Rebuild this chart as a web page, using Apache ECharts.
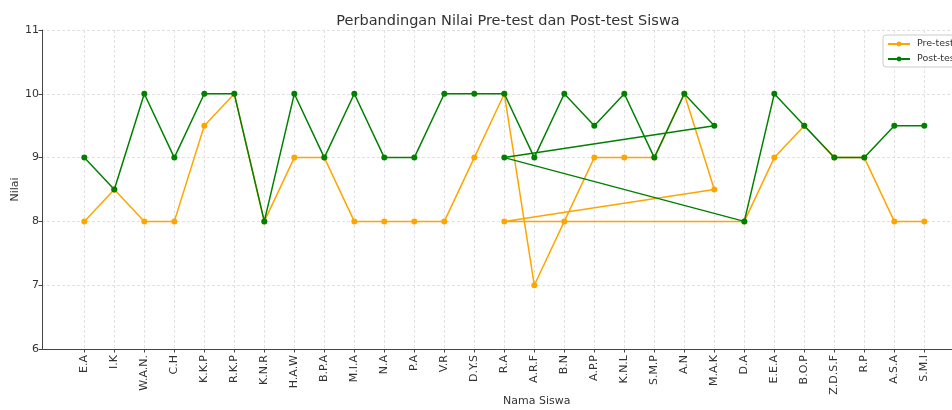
<!DOCTYPE html>
<html>
<head>
<meta charset="utf-8">
<script src="https://cdn.jsdelivr.net/npm/echarts@6/dist/echarts.min.js"></script>
<style>
  html, body { margin: 0; padding: 0; background: #fff; }
  #chart { width: 952px; height: 410px; }
</style>
</head>
<body>
<div id="chart"></div>
<script>
// urutan siswa seperti di data asli (R.A muncul dua kali)
const names = ["E.A", "I.K", "W.A.N.", "C.H", "K.K.P", "R.K.P", "K.N.R", "H.A.W", "B.P.A", "M.I.A",
  "N.A", "P.A", "V.R", "D.Y.S", "R.A", "A.R.F", "B.N", "A.P.P", "K.N.L", "S.M.P",
  "A.N", "M.A.K", "R.A", "D.A", "E.E.A", "B.O.P", "Z.D.S.F", "R.P", "A.S.A", "S.M.I"];
const preTest = [8, 8.5, 8, 8, 9.5, 10, 8, 9, 9, 8,
  8, 8, 8, 9, 10, 7, 8, 9, 9, 9,
  10, 8.5, 8, 8, 9, 9.5, 9, 9, 8, 8];
const postTest = [9, 8.5, 10, 9, 10, 10, 8, 10, 9, 10,
  9, 9, 10, 10, 10, 9, 10, 9.5, 10, 9,
  10, 9.5, 9, 8, 10, 9.5, 9, 9, 9.5, 9.5];
const yTicks = [6, 7, 8, 9, 10, 11];

// kategori unik untuk sumbu x
const categories = [];
names.forEach((n) => { if (categories.indexOf(n) < 0) categories.push(n); });

const toPoints = (vals) => names.map((n, i) => [categories.indexOf(n), vals[i]]);

const textColor = "#333";
const gridLine = { show: true, lineStyle: { color: "#d9d9d9", type: [3, 2], width: 0.8 } };
const font = "DejaVu Sans";

const chart = echarts.init(document.getElementById("chart"));
const option = {
  animation: false,
  backgroundColor: "#fff",
  title: {
    text: "Perbandingan Nilai Pre-test dan Post-test Siswa",
    left: 503,
    textAlign: "center",
    top: 9,
    textStyle: { fontFamily: font, fontSize: 14.5, fontWeight: "normal", color: textColor },
  },
  legend: {
    orient: "vertical",
    left: 883,
    top: 35,
    padding: [4, 6, 3, 4],
    itemGap: 5,
    itemWidth: 22,
    itemHeight: 6,
    borderColor: "#ccc",
    borderWidth: 1,
    borderRadius: 3,
    backgroundColor: "rgba(255,255,255,0.8)",
    textStyle: { fontFamily: font, fontSize: 9.5, color: textColor, padding: [0, 0, 0, 2] },
    data: ["Pre-test", "Post-test"],
  },
  grid: [
    { left: 42, right: -44, top: 30, bottom: 61, outerBoundsMode: "none", containLabel: false },
    { left: 84.3, right: 27.7, top: 30, bottom: 61, outerBoundsMode: "none", containLabel: false },
  ],
  xAxis: [
    {
      gridIndex: 0,
      type: "value",
      min: -1.4,
      max: 29.4,
      axisLine: { show: true, onZero: false, lineStyle: { color: "#444", width: 1 } },
      axisTick: { show: false },
      axisLabel: { show: false },
      splitLine: { show: false },
    },
    {
      gridIndex: 1,
      type: "category",
      data: categories,
      boundaryGap: false,
      axisLine: { show: false },
      axisTick: { show: true, interval: 0, length: 3.5, lineStyle: { color: "#444" } },
      axisLabel: {
        interval: 0,
        rotate: 90,
        margin: 6,
        fontFamily: font,
        fontSize: 11,
        color: textColor,
      },
      splitLine: Object.assign({ interval: 0 }, gridLine),
    },
  ],
  yAxis: [
    {
      gridIndex: 0,
      type: "value",
      min: 6,
      max: 11,
      interval: 1,
      name: "Nilai",
      nameLocation: "middle",
      nameGap: 21,
      nameMoveOverlap: false,
      nameTextStyle: { fontFamily: font, fontSize: 11, color: textColor },
      axisLine: { show: true, onZero: false, lineStyle: { color: "#444", width: 1 } },
      axisTick: { show: true, length: 3.5, lineStyle: { color: "#444" } },
      axisLabel: {
        margin: 3,
        fontFamily: font,
        fontSize: 11,
        color: textColor,
        formatter: (v) => (yTicks.indexOf(v) >= 0 ? String(v) : ""),
      },
      splitLine: gridLine,
    },
    {
      gridIndex: 1,
      type: "value",
      min: 6,
      max: 11,
      show: false,
    },
  ],
  graphic: [
    {
      type: "text",
      left: 503,
      top: 396,
      style: {
        text: "Nama Siswa",
        fontFamily: font,
        fontSize: 11,
        fill: textColor,
        align: "center",
      },
    },
  ],
  series: [
    {
      name: "Pre-test",
      type: "line",
      xAxisIndex: 1,
      yAxisIndex: 1,
      data: toPoints(preTest),
      color: "#FFA500",
      symbol: "circle",
      symbolSize: 6,
      lineStyle: { width: 1.5 },
      z: 2,
    },
    {
      name: "Post-test",
      type: "line",
      xAxisIndex: 1,
      yAxisIndex: 1,
      data: toPoints(postTest),
      color: "#008000",
      symbol: "circle",
      symbolSize: 6,
      lineStyle: { width: 1.5 },
      z: 3,
    },
  ],
};
chart.setOption(option);
</script>
</body>
</html>
